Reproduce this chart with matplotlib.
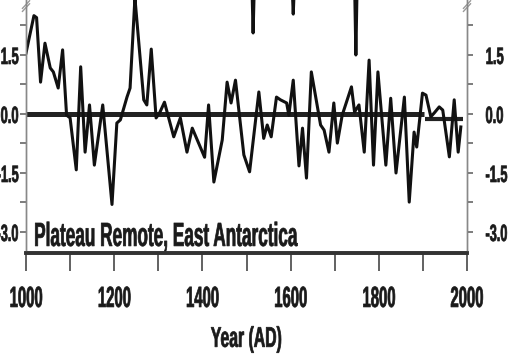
import matplotlib
matplotlib.use("Agg")
import matplotlib.pyplot as plt
from matplotlib import font_manager, patheffects
from matplotlib.font_manager import FontProperties
from matplotlib.transforms import Affine2D, Bbox
import numpy as np

# ---- data ----
years = [1000, 1018, 1024, 1033, 1043, 1055, 1062, 1073, 1083, 1092, 1100,
         1114, 1124, 1134, 1144, 1155, 1174, 1195, 1206, 1214, 1229, 1236,
         1247, 1267, 1274, 1284, 1295, 1303, 1314, 1335, 1350, 1365, 1377,
         1405, 1414, 1426, 1445, 1456, 1465, 1475, 1494, 1507, 1528, 1539,
         1547, 1556, 1568, 1577, 1591, 1596, 1606, 1619, 1627, 1636, 1647,
         1668, 1676, 1687, 1698, 1706, 1717, 1738, 1745, 1755, 1767, 1778,
         1788, 1798, 1816, 1827, 1839, 1858, 1869, 1880, 1886, 1899, 1907,
         1918, 1926, 1937, 1945, 1960, 1971, 1980, 1986]
values = [1.55, 2.50, 2.45, 0.81, 1.80, 1.17, 1.07, 0.66, 1.63, -0.03, -0.10,
          -1.42, 1.20, -0.97, 0.23, -1.30, 0.23, -2.30, -0.23, -0.15, 0.43, 0.66,
          2.95, 0.36, 0.23, 1.65, -0.10, 0.03, 0.30, -0.58, -0.10, -0.97, -0.36,
          -1.10, 0.23, -1.73, -0.66, 0.81, 0.28, 0.86, -1.04, -1.47, 0.56, -0.62,
          -0.28, -0.58, 0.43, 0.36, 0.28, -0.03, 0.86, -1.32, -0.36, -1.63, 1.07,
          -0.28, -0.41, -0.97, 0.28, -0.74, -0.03, 0.69, 0.05, 0.23, -0.97, 1.37,
          -1.30, 1.07, -1.30, 0.40, -1.50, 0.43, -2.24, -0.46, -0.84, 0.53, 0.48,
          -0.07, 0.03, 0.18, 0.10, -1.09, 0.36, -0.97, -0.33]

# spikes of the panel above that reach into this one
upper_years = [1512, 1515, 1518, np.nan, 1603, 1606, 1609, np.nan, 1745, 1748, 1751]
upper_values = [3.4, 2.06, 3.4, np.nan, 3.4, 2.54, 3.4, np.nan, 3.4, 1.50, 3.4]

zero_span = [1000, 1903]
recent_span = [1905, 1990]
recent_level = -0.12

x_major = [1000, 1200, 1400, 1600, 1800, 2000]
x_minor = [1100, 1300, 1500, 1700, 1900]
y_major = [-3.0, -1.5, 0.0, 1.5]
y_minor = [-2.25, -0.75, 0.75, 2.25]
y_labels = ["-3.0", "-1.5", "0.0", "1.5"]

title_text = "Plateau Remote, East Antarctica"
xlabel_text = "Year (AD)"

font_file = font_manager.findfont(FontProperties(family="Liberation Sans", weight="bold"))
ink = "#1a1a1a"


class Condense(patheffects.AbstractPathEffect):
    """Squeeze the glyphs horizontally (the reference uses a narrow face)."""

    def __init__(self, sx, anchor, stroke=0.5):
        super().__init__()
        self.sx = sx
        self.anchor = anchor
        self.stroke = stroke

    def draw_path(self, renderer, gc, tpath, affine, rgbFace=None):
        ext = tpath.get_extents()
        cx = ext.x0 + self.anchor * ext.width
        t = Affine2D().translate(-cx, 0).scale(self.sx, 1).translate(cx, 0) + affine
        gc0 = renderer.new_gc()
        gc0.copy_properties(gc)
        gc0.set_linewidth(self.stroke)
        if rgbFace is not None:
            gc0.set_foreground(rgbFace)
        gc0.set_joinstyle("round")
        renderer.draw_path(gc0, tpath, t, rgbFace)
        gc0.restore()


fig = plt.figure(figsize=(5.14, 3.60), dpi=100)
ax = fig.add_axes([26 / 514, 1 - 253 / 360, 441 / 514, 253 / 360])

ax.plot(zero_span, [0, 0], color="#222222", lw=3.6, solid_capstyle="butt", zorder=2)
ax.plot(recent_span, [recent_level, recent_level], color="#222222", lw=3.0,
        solid_capstyle="butt", zorder=2)
ax.plot(years, values, color="#111111", lw=2.2, zorder=3)
ax.plot(upper_years, upper_values, color="#111111", lw=2.2, zorder=3)

ax.set_xlim(1000, 2000)
ax.set_ylim(-3.534, 2.898)

ax.set_xticks(x_major)
ax.set_xticks(x_minor, minor=True)
ax.set_yticks(y_major)
ax.set_yticklabels(y_labels)
ax.set_yticks(y_minor, minor=True)

ax.tick_params(axis="x", which="both", direction="out", length=13, width=1.3,
               color="#555555", pad=10, labelcolor=ink)
ax.tick_params(axis="y", which="both", direction="out", length=4, width=1.2,
               color="#666666", pad=1, labelcolor=ink)

axr = ax.twinx()
axr.set_ylim(ax.get_ylim())
axr.set_yticks(y_major)
axr.set_yticklabels(y_labels)
axr.set_yticks(y_minor, minor=True)
axr.tick_params(axis="y", which="both", direction="out", length=4, width=1.2,
                color="#666666", pad=9, labelcolor=ink)

for a in (ax, axr):
    a.spines["top"].set_visible(False)
    a.spines["left"].set_color("#888888")
    a.spines["right"].set_color("#888888")
    a.spines["left"].set_linewidth(1.0)
    a.spines["right"].set_linewidth(1.0)
    a.spines["bottom"].set_color("#333333")
    a.spines["bottom"].set_linewidth(2.6)

title = ax.text(0.016, 0.028, title_text, transform=ax.transAxes, ha="left",
                va="baseline", color=ink)
xl = ax.set_xlabel(xlabel_text, color=ink, labelpad=10)

renderer = fig.canvas.get_renderer()


def style(txt, size, target_px, anchor):
    txt.set_fontproperties(FontProperties(fname=font_file, size=size))
    w = txt.get_window_extent(renderer).width
    sx = target_px / w
    txt.set_path_effects([Condense(sx, anchor)])
    orig = txt.get_window_extent

    def extent(renderer=None, dpi=None, _orig=orig, _sx=sx, _a=anchor):
        bb = _orig(renderer, dpi)
        x0 = bb.x0 + _a * bb.width * (1 - _sx)
        return Bbox.from_bounds(x0, bb.y0, bb.width * _sx, bb.height)

    txt.get_window_extent = extent


style(title, 24, 264, 0.0)
style(xl, 20.5, 71, 0.5)
for lab in ax.get_xticklabels():
    style(lab, 21, 33, 0.5)
for lab in ax.get_yticklabels():
    style(lab, 17, 18 if not lab.get_text().startswith("-") else 22, 1.0)
for lab in axr.get_yticklabels():
    style(lab, 17, 18 if not lab.get_text().startswith("-") else 22, 0.0)

# axis break marks at the top of both spines
for xa in (0.0, 1.0):
    for dy in (0.0, 0.012):
        ax.plot([xa - 0.008, xa + 0.008], [0.955 + dy, 0.985 + dy],
                transform=ax.transAxes, color="#999999", lw=1.0, clip_on=False)

fig.savefig("out.png", dpi=100)
